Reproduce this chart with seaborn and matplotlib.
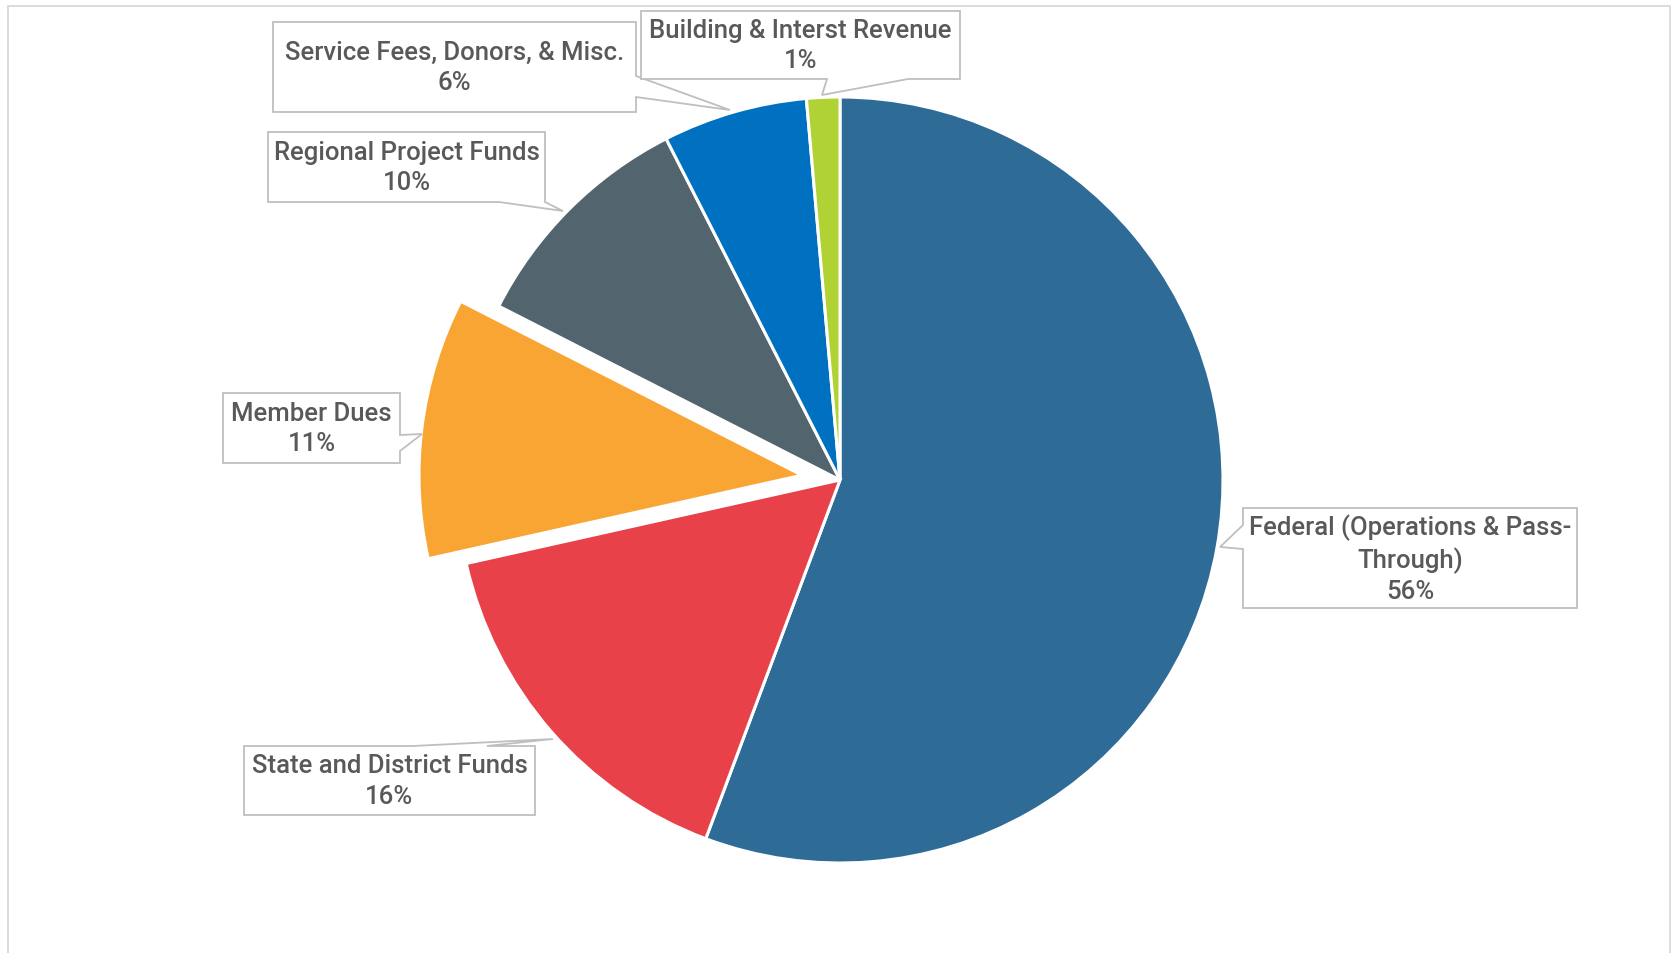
import matplotlib.pyplot as plt
import seaborn as sns
from matplotlib.patches import Polygon, Rectangle

# Revenue sources (share of total, %)
categories = ['Federal (Operations & Pass-\nThrough)', 'State and District Funds', 'Member Dues',
              'Regional Project Funds', 'Service Fees, Donors, & Misc.', 'Building & Interst Revenue']
shares = [55.7, 15.8, 11.0, 10.0, 6.1, 1.4]
colors = ['#2E6B96', '#E8414A', '#F9A533', '#52646D', '#0070C0', '#B0D235']
explode = [0, 0, 0.1, 0, 0, 0]

W, H = 1673, 954
R = 383

sns.set_theme(style='white')
plt.rcParams['font.family'] = ['Roboto', 'DejaVu Sans']

fig = plt.figure(figsize=(W / 100, H / 100), dpi=100)
ax = fig.add_axes([0, 0, 1, 1])

# matplotlib offsets exploded wedges in data units, so scale by the radius
ax.pie(shares, colors=colors, explode=[e * R for e in explode], startangle=90,
       counterclock=False, center=(840, H - 481), radius=R,
       wedgeprops=dict(edgecolor='white', linewidth=2.2))
ax.set_xlim(0, W)
ax.set_ylim(0, H)
ax.set_aspect('equal')
ax.axis('off')

# callout boxes in image pixels: box (x0, y0, x1, y1), pointer (side, a, b, tip)
callouts = [
    ((1243, 509, 1577, 609), ('left', 526, 550, (1220, 548))),
    ((244, 747, 535, 816), ('top', 413, 487, (553, 740))),
    ((223, 394, 400, 464), ('right', 436, 452, (422, 435))),
    ((268, 133, 545, 203), ('bottom', 499, 545, (563, 212))),
    ((273, 23, 636, 113), ('right', 77, 98, (730, 111))),
    ((641, 12, 960, 80), ('bottom', 827, 908, (822, 96))),
]


def outline(box, ptr):
    x0, y0, x1, y1 = box
    side, a, b, tip = ptr
    pts = [(x0, y0)]
    if side == 'top':
        pts += [(a, y0), tip, (b, y0)]
    pts.append((x1, y0))
    if side == 'right':
        pts += [(x1, a), tip, (x1, b)]
    pts.append((x1, y1))
    if side == 'bottom':
        pts += [(b, y1), tip, (a, y1)]
    pts.append((x0, y1))
    if side == 'left':
        pts += [(x0, b), tip, (x0, a)]
    return [(x, H - y) for x, y in pts]


for name, share, (box, ptr) in zip(categories, shares, callouts):
    ax.add_patch(Polygon(outline(box, ptr), closed=True, facecolor='white',
                         edgecolor='#BFBFBF', linewidth=1.3, zorder=3))
    cx = (box[0] + box[2]) / 2
    cy = (box[1] + box[3]) / 2
    ax.text(cx, H - cy, f'{name}\n{share:.0f}%', ha='center', va='center',
            fontsize=18.5, fontweight='medium', color='#595959',
            linespacing=1.32, zorder=4)

# thin chart frame
ax.add_patch(Rectangle((8.5, -20), 1661.5, H - 7 + 20, fill=False,
                       edgecolor='#D9D9D9', linewidth=1.3, clip_on=False))

fig.savefig('out.png', dpi=100)
